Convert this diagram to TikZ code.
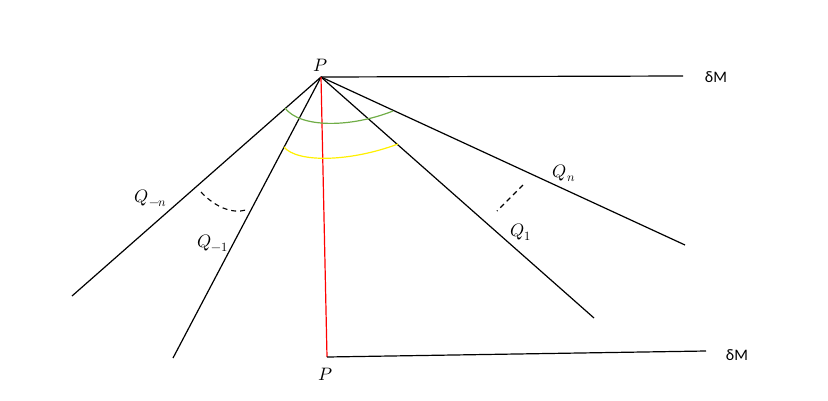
\documentclass[tikz,border=0pt]{standalone}
\usepackage{unicode-math}
\setmathfont{Latin Modern Math}
\newfontfamily\calib{Carlito}
\definecolor{offgreen}{RGB}{112,173,71}
\definecolor{offyellow}{RGB}{255,240,0}
\begin{document}
\begin{tikzpicture}[x=1pt,y=-1pt,
  ln/.style={line width=1.2pt,black},
  lbl/.style={inner sep=0pt,font=\fontsize{18}{20}\selectfont},
  dm/.style={inner sep=0pt,font=\calib\fontsize{16}{18}\selectfont}]
\useasboundingbox (0,0) rectangle (828,400);
\coordinate (P) at (321,77);
\coordinate (T) at (683,76);
\coordinate (A) at (72,296);
\coordinate (B) at (173,358);
\coordinate (R) at (327,357);
\coordinate (C) at (594,318);
\coordinate (D) at (685,245);
\coordinate (E) at (706,351);
\draw[ln] (P) -- (T);
\draw[ln] (P) -- (A);
\draw[ln] (P) -- (B);
\draw[ln] (P) -- (C);
\draw[ln] (P) -- (D);
\draw[line width=1.2pt,red] (P) -- (R);
\draw[ln] (R) -- (E);
\node[lbl] (p1) at (321,65) {$P$};
\node[lbl] (p2) at (326,374) {$P$};
\node[dm] (d1) at (716,77) {δM};
\node[dm] (d2) at (737,355) {δM};
\node[lbl] (qn1) at (151,198) {$Q_{-n}$};
\node[lbl] (q11) at (213,243) {$Q_{-1}$};
\node[lbl] (q1) at (521,232) {$Q_1$};
\node[lbl] (qn) at (564,173) {$Q_n$};
\draw[line width=1.2pt,offgreen] (285,108) .. controls (300,128) and (350,128) .. (393,111);
\draw[line width=1.2pt,offyellow] (284,147) .. controls (297,163) and (350,162) .. (398,144);
\draw[line width=1.1pt,dash pattern=on 5pt off 4pt] (201,192) .. controls (215,207) and (232,214) .. (246,210);
\draw[line width=1.1pt,dash pattern=on 5pt off 4pt] (523,185) -- (497,211);
\end{tikzpicture}
\end{document}
